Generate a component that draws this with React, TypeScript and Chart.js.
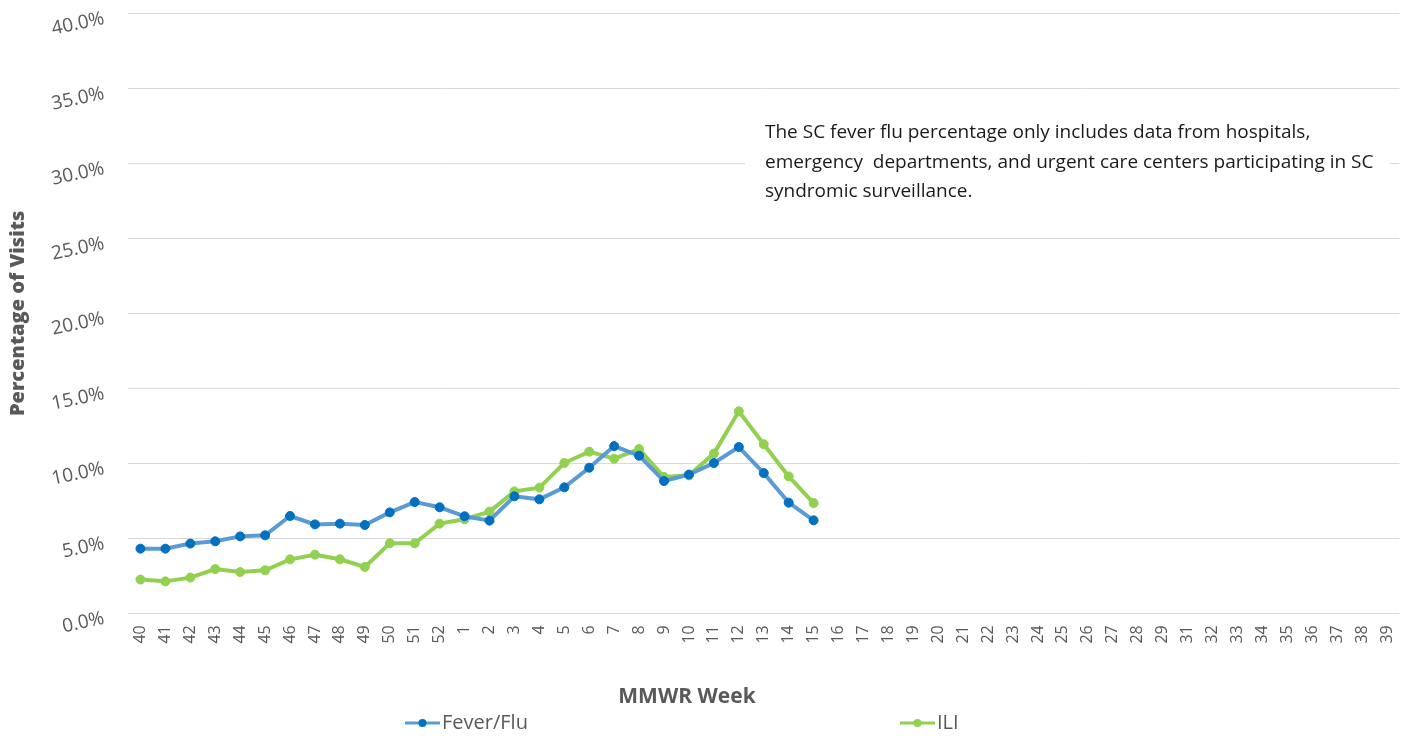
import React, { useEffect, useRef } from "react";
import { Chart, registerables } from "chart.js";

Chart.register(...registerables);

const weeks: string[] = [
  "40", "41", "42", "43", "44", "45", "46", "47", "48", "49", "50", "51", "52",
  "1", "2", "3", "4", "5", "6", "7", "8", "9", "10", "11", "12", "13", "14", "15",
  "16", "17", "18", "19", "20", "21", "22", "23", "24", "25", "26", "27", "28", "29",
  "31", "32", "33", "34", "35", "36", "37", "38", "39",
];

const feverFlu: number[] = [
  4.31, 4.31, 4.65, 4.8, 5.13, 5.2, 6.49, 5.93, 5.98, 5.89, 6.73, 7.42, 7.07,
  6.47, 6.18, 7.8, 7.6, 8.4, 9.71, 11.15, 10.51, 8.82, 9.25, 10.02, 11.09, 9.35, 7.38, 6.2,
];

const ili: number[] = [
  2.25, 2.13, 2.38, 2.95, 2.75, 2.87, 3.6, 3.91, 3.6, 3.09, 4.67, 4.67, 5.98,
  6.27, 6.78, 8.13, 8.38, 10.02, 10.78, 10.31, 10.95, 9.09, 9.2, 10.65, 13.47, 11.27, 9.13, 7.35,
];

const yTicks: number[] = [0, 5, 10, 15, 20, 25, 30, 35, 40];

const seriesNames = ["Fever/Flu", "ILI"];
const noteLines = [
  "The SC fever flu percentage only includes data from hospitals,",
  "emergency  departments, and urgent care centers participating in SC",
  "syndromic surveillance.",
];
const xTitle = "MMWR Week";
const yTitle = "Percentage of Visits";

const FONT = "'Open Sans', 'DejaVu Sans', sans-serif";
const GREY = "#595959";

const overlayPlugin = {
  id: "overlay",
  afterDraw(chart: any) {
    const ctx = chart.ctx as CanvasRenderingContext2D;
    ctx.save();
    // note box
    ctx.fillStyle = "#ffffff";
    ctx.fillRect(737, 107, 645, 96);
    ctx.fillStyle = "#1a1a1a";
    ctx.font = `19px ${FONT}`;
    ctx.textAlign = "left";
    ctx.textBaseline = "middle";
    const ys = [125, 155, 184];
    noteLines.forEach((l, i) => ctx.fillText(l, 757, ys[i]));

    // x title
    ctx.fillStyle = GREY;
    ctx.font = `bold 21px ${FONT}`;
    ctx.textAlign = "center";
    ctx.fillText(xTitle, 679, 689);

    // legend
    const items = [
      { x: 397, line: "#5b9bd5", dot: "#0070c0", name: seriesNames[0] },
      { x: 892, line: "#92d050", dot: "#92d050", name: seriesNames[1] },
    ];
    const ly = 715;
    items.forEach((it) => {
      ctx.strokeStyle = it.line;
      ctx.lineWidth = 3;
      ctx.beginPath();
      ctx.moveTo(it.x, ly);
      ctx.lineTo(it.x + 35, ly);
      ctx.stroke();
      ctx.fillStyle = it.dot;
      ctx.beginPath();
      ctx.arc(it.x + 17.5, ly, 4, 0, Math.PI * 2);
      ctx.fill();
      ctx.fillStyle = GREY;
      ctx.font = `20px ${FONT}`;
      ctx.textAlign = "left";
      ctx.fillText(it.name, it.x + 37, ly);
    });
    ctx.restore();
  },
};

export default function App() {
  const ref = useRef<HTMLCanvasElement | null>(null);

  useEffect(() => {
    if (!ref.current) return;
    const chart = new Chart(ref.current, {
      type: "line",
      data: {
        labels: weeks,
        datasets: [
          {
            label: seriesNames[0],
            data: feverFlu,
            borderColor: "#5b9bd5",
            backgroundColor: "#0070c0",
            pointBackgroundColor: "#0070c0",
            pointBorderColor: "#0070c0",
            borderWidth: 4,
            pointRadius: 4.5,
            pointBorderWidth: 1,
            tension: 0,
          },
          {
            label: seriesNames[1],
            data: ili,
            borderColor: "#92d050",
            backgroundColor: "#92d050",
            pointBackgroundColor: "#92d050",
            pointBorderColor: "#92d050",
            borderWidth: 4,
            pointRadius: 4.5,
            pointBorderWidth: 1,
            tension: 0,
          },
        ],
      },
      options: {
        animation: false,
        responsive: true,
        maintainAspectRatio: false,
        layout: { padding: { left: 0, right: 2, top: 5.3, bottom: 22 } },
        plugins: {
          legend: { display: false },
          tooltip: { enabled: false },
        },
        scales: {
          x: {
            offset: true,
            grid: { display: false, drawTicks: false },
            border: { display: false },
            ticks: {
              minRotation: 90,
              maxRotation: 90,
              autoSkip: false,
              padding: 12,
              color: GREY,
              font: { family: FONT, size: 16 },
            },
            afterFit(scale: any) {
              scale.height = 94.7;
              scale.paddingLeft = 0;
              scale.paddingRight = 0;
            },
          },
          y: {
            min: 0,
            max: 40,
            afterBuildTicks(scale: any) {
              scale.ticks = yTicks.map((v) => ({ value: v }));
            },
            grid: { color: "#d9d9d9", lineWidth: 1, drawTicks: false },
            border: { display: false },
            ticks: {
              minRotation: 12,
              maxRotation: 12,
              padding: 24,
              labelOffset: 5,
              color: GREY,
              font: { family: FONT, size: 19 },
              callback: (v: any) => Number(v).toFixed(1) + "%",
            },
            title: {
              display: true,
              text: yTitle,
              color: GREY,
              font: { family: FONT, size: 20, weight: "800" as any },
              padding: { top: -2, bottom: 0 },
            },
            afterFit(scale: any) {
              scale.width = 120;
              scale.paddingTop = 0;
              scale.paddingBottom = 0;
            },
          },
        },
      },
      plugins: [overlayPlugin],
    });
    return () => chart.destroy();
  }, []);

  return (
    <div style={{ width: 1397, height: 722, position: "relative" }}>
      <canvas ref={ref} />
    </div>
  );
}
